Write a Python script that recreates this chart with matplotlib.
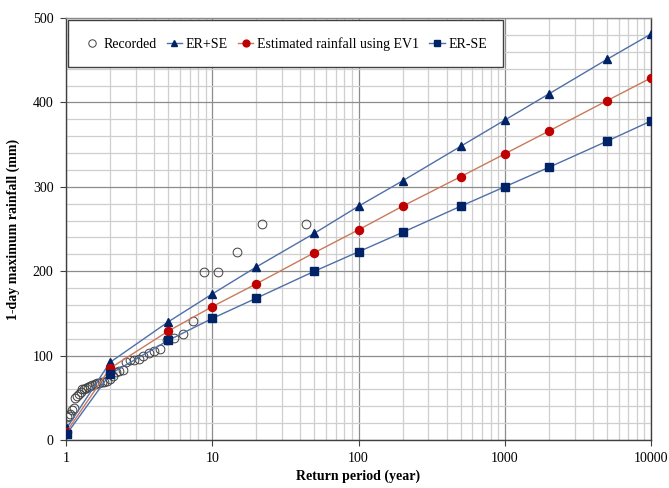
import numpy as np
import matplotlib
matplotlib.use("Agg")
import matplotlib.pyplot as plt
from matplotlib.ticker import FixedLocator, NullFormatter, LogLocator

# return periods for the fitted curves
T_fit = [1.01, 2, 5, 10, 20, 50, 100, 200, 500, 1000, 2000, 5000, 10000]
er_plus_se = [14, 92, 140, 173, 205, 245, 277, 307, 348, 379, 410, 451, 481]
ev1 = [10, 85, 129, 158, 185, 222, 249, 277, 312, 339, 366, 402, 429]
er_minus_se = [7, 78, 118, 144, 168, 200, 223, 246, 277, 300, 323, 354, 378]

# recorded annual maxima (plotting positions)
T_rec = [1.023, 1.048, 1.073, 1.100, 1.128, 1.157, 1.189, 1.222, 1.257, 1.294,
         1.333, 1.375, 1.419, 1.467, 1.517, 1.571, 1.630, 1.692, 1.760, 1.833,
         1.913, 2.000, 2.095, 2.200, 2.316, 2.444, 2.588, 2.750, 2.933, 3.143,
         3.385, 3.667, 4.000, 4.400, 4.889, 5.500, 6.286, 7.333, 8.800, 11.00,
         14.67, 22.00, 44.00]
rec = [27, 28, 31, 36, 38, 50, 52, 55, 57, 60,
       61, 62, 63, 64, 65, 66, 67, 68, 69, 69,
       70, 72, 76, 81, 82, 83, 93, 95, 95, 96,
       100, 103, 106, 108, 118, 121, 126, 141, 199, 199,
       223, 256, 256]

plt.rcParams['font.family'] = ['Liberation Serif', 'DejaVu Serif']

fig = plt.figure(figsize=(6.69, 4.88), dpi=100)
ax = fig.add_axes([66/669, 1-440/488, (651-66)/669, (440-18)/488])

ax.set_xscale('log')
ax.set_xlim(1, 10000)
ax.set_ylim(0, 500)

ax.xaxis.set_minor_locator(LogLocator(base=10, subs=np.arange(2, 10)))
ax.xaxis.set_minor_formatter(NullFormatter())
ax.set_xticks([1, 10, 100, 1000, 10000])
ax.set_xticklabels(['1', '10', '100', '1000', '10000'])
ax.set_yticks([0, 100, 200, 300, 400, 500])
ax.yaxis.set_minor_locator(FixedLocator(np.arange(0, 501, 20)))

ax.grid(which='major', color='#8c8c8c', lw=0.9)
ax.grid(which='minor', color='#cfcfcf', lw=0.9)
ax.set_axisbelow(True)
ax.tick_params(which='minor', length=0)
ax.tick_params(which='major', length=4, color='#404040', labelsize=10, pad=5)

for s in ['left', 'bottom', 'right', 'top']:
    ax.spines[s].set_color('#404040')
    ax.spines[s].set_linewidth(1.0)
ax.spines['top'].set_color('#8c8c8c')

line_blue = '#4f6fa8'
line_red = '#c97a5a'
navy = '#002266'
red = '#c00000'

ax.plot(T_rec, rec, 'o', ms=6.3, mfc='none', mec='#404040', mew=0.7,
        label='Recorded', zorder=3)
ax.plot(T_fit, er_plus_se, '-^', color=line_blue, lw=1.0, ms=5.8,
        mfc=navy, mec=navy, label='ER+SE', zorder=4)
ax.plot(T_fit, ev1, '-o', color=line_red, lw=1.0, ms=5.8,
        mfc=red, mec=red, label='Estimated rainfall using EV1', zorder=4)
ax.plot(T_fit, er_minus_se, '-s', color=line_blue, lw=1.0, ms=5.6,
        mfc=navy, mec=navy, label='ER-SE', zorder=4)

leg = ax.legend(loc='upper left', ncol=4, fontsize=10, frameon=True,
                fancybox=False, edgecolor='#404040', framealpha=1,
                bbox_to_anchor=(0.003, 0.995), handlelength=1.1,
                handletextpad=0.25, columnspacing=0.75, borderpad=1.2,
                borderaxespad=0.0, markerscale=0.85)
leg.get_frame().set_linewidth(1.0)

ax.set_xlabel('Return period (year)', fontsize=10, fontweight='bold', labelpad=3)
ax.set_ylabel('1-day maximum rainfall (mm)', fontsize=10, fontweight='bold', labelpad=9)

fig.savefig('out.png', dpi=100)
